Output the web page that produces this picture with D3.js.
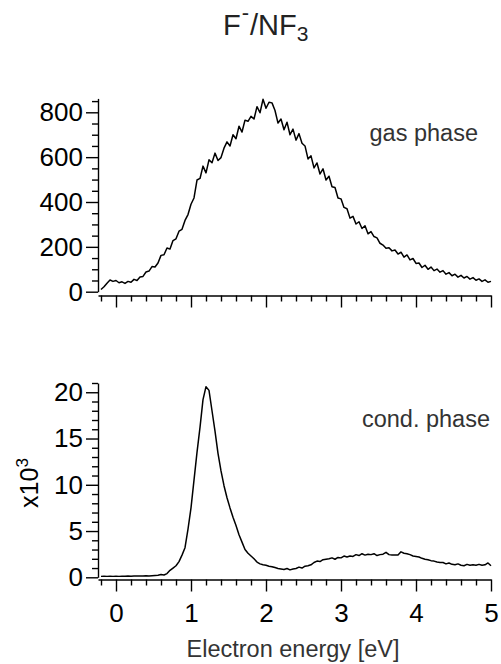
<!DOCTYPE html>
<html><head><meta charset="utf-8">
<script src="https://cdn.jsdelivr.net/npm/d3@7"></script>
<style>
body{margin:0;background:#fff}
svg{display:block}
text{font-family:"Liberation Sans",Arial,Helvetica,sans-serif}
</style>
</head><body><svg id="c" width="501" height="664"></svg>
<script>
// ---- data ----
const energy = [-0.2,-0.16,-0.12,-0.08,-0.04,
0,0.04,0.08,0.12,0.16,0.2,0.24,0.28,0.32,0.36,0.4,0.44,0.48,0.52,0.56,0.6,0.64,0.68,0.72,0.76,0.8,0.84,0.88,0.92,0.96,
1,1.04,1.08,1.12,1.16,1.2,1.24,1.28,1.32,1.36,1.4,1.44,1.48,1.52,1.56,1.6,1.64,1.68,1.72,1.76,1.8,1.84,1.88,1.92,1.96,
2,2.04,2.08,2.12,2.16,2.2,2.24,2.28,2.32,2.36,2.4,2.44,2.48,2.52,2.56,2.6,2.64,2.68,2.72,2.76,2.8,2.84,2.88,2.92,2.96,
3,3.04,3.08,3.12,3.16,3.2,3.24,3.28,3.32,3.36,3.4,3.44,3.48,3.52,3.56,3.6,3.64,3.68,3.72,3.76,3.8,3.84,3.88,3.92,3.96,
4,4.04,4.08,4.12,4.16,4.2,4.24,4.28,4.32,4.36,4.4,4.44,4.48,4.52,4.56,4.6,4.64,4.68,4.72,4.76,4.8,4.84,4.88,4.92,4.96,
5];

const gasPhase = [10,22,38,52,46,
50,40,44,37,46,42,55,50,66,68,88,92,112,110,128,162,165,195,190,228,236,270,278,318,344,
390,418,498,505,560,530,588,575,618,585,598,640,668,650,700,682,738,712,765,760,782,770,825,798,858,
818,845,842,808,752,770,722,756,700,725,676,705,662,650,592,606,552,574,525,548,498,515,468,465,418,
414,376,370,328,336,302,312,282,294,258,268,246,240,216,208,194,196,182,186,168,176,154,164,142,148,
126,128,108,118,100,110,94,101,87,94,78,85,71,78,65,73,61,68,56,63,51,57,46,53,42,
46];

const condPhase = [0.1,0.12,0.1,0.11,0.1,
0.12,0.1,0.12,0.11,0.13,0.12,0.14,0.13,0.15,0.14,0.16,0.15,0.18,0.2,0.22,0.3,0.25,0.4,0.75,1.0,1.25,1.7,2.4,3.2,5.2,
7.5,10.5,13.5,16.2,19.2,20.6,20.2,18.0,15.8,13.4,11.5,9.9,8.6,7.5,6.5,5.6,4.6,3.8,3.0,2.6,2.3,2.0,1.65,1.45,1.35,
1.3,1.2,1.15,1.05,0.95,0.9,0.85,0.95,0.8,0.9,0.95,1.1,1.0,1.2,1.25,1.35,1.6,1.75,1.7,1.9,1.95,2.0,2.1,1.95,2.15,
2.1,2.3,2.2,2.3,2.25,2.45,2.35,2.55,2.4,2.5,2.45,2.55,2.35,2.45,2.5,2.7,2.45,2.4,2.4,2.4,2.75,2.6,2.55,2.45,2.3,
2.25,2.2,2.05,1.95,1.9,1.8,1.75,1.65,1.6,1.6,1.45,1.55,1.4,1.35,1.45,1.3,1.25,1.4,1.3,1.35,1.3,1.4,1.3,1.35,1.55,
1.25];

const xTicks = [0,1,2,3,4,5];
const xMinorTicks = [-0.2,0.2,0.4,0.6,0.8,1.2,1.4,1.6,1.8,2.2,2.4,2.6,2.8,3.2,3.4,3.6,3.8,4.2,4.4,4.6,4.8];
const gasTicks = [0,200,400,600,800];
const gasMinorTicks = [50,100,150,250,300,350,450,500,550,650,700,750,850];
const condTicks = [0,5,10,15,20];
const condMinorTicks = [1,2,3,4,6,7,8,9,11,12,13,14,16,17,18,19,21];

// ---- drawing ----
const svg = d3.select("#c");
const FONT = "Liberation Sans, Arial, Helvetica, sans-serif";
const x = d3.scaleLinear().domain([-0.24, 5]).range([98, 491]);
const yGas = d3.scaleLinear().domain([0, 862]).range([291.7, 98.4]);
const yCond = d3.scaleLinear().domain([0, 21]).range([577.3, 383]);

function styleAxis(g){
  g.selectAll("path,line").attr("stroke","#000").attr("stroke-width",1.4);
  g.attr("font-family",FONT).attr("font-size",26);
  g.selectAll("text").attr("fill","#000");
}

function panel(y, xAxisY, data, ticks, minor, showXLabels){
  const yAxisX = 98;
  svg.append("g").attr("transform",`translate(${yAxisX},0)`)
    .call(d3.axisLeft(y).tickValues(ticks).tickSize(12).tickSizeOuter(0).tickPadding(3).tickFormat(d3.format("d")))
    .call(styleAxis);
  svg.append("g").attr("transform",`translate(${yAxisX},0)`)
    .call(d3.axisLeft(y).tickValues(minor).tickSize(6).tickSizeOuter(0).tickFormat(""))
    .call(styleAxis).call(g=>g.select(".domain").remove());
  const xa = d3.axisBottom(x).tickValues(xTicks).tickSize(12).tickSizeOuter(0).tickPadding(12)
    .tickFormat(showXLabels ? d3.format("d") : "");
  svg.append("g").attr("transform",`translate(0,${xAxisY})`).call(xa).call(styleAxis);
  svg.append("g").attr("transform",`translate(0,${xAxisY})`)
    .call(d3.axisBottom(x).tickValues(xMinorTicks).tickSize(6).tickSizeOuter(0).tickFormat(""))
    .call(styleAxis).call(g=>g.select(".domain").remove());
  const line = d3.line().x((d,i)=>x(energy[i])).y(d=>y(d));
  svg.append("path").datum(data).attr("d",line)
    .attr("fill","none").attr("stroke","#000").attr("stroke-width",1.5)
    .attr("stroke-linejoin","round");
}

panel(yGas, 295.5, gasPhase, gasTicks, gasMinorTicks, false);
panel(yCond, 579.5, condPhase, condTicks, condMinorTicks, true);

// annotations
svg.append("text").attr("x",478).attr("y",141).attr("text-anchor","end")
  .attr("font-size",23.5).attr("fill","#333").text("gas phase");
svg.append("text").attr("x",490).attr("y",427).attr("text-anchor","end")
  .attr("font-size",23.5).attr("fill","#333").text("cond. phase");
svg.append("text").attr("x",293).attr("y",657).attr("text-anchor","middle")
  .attr("font-size",23.5).attr("fill","#333").text("Electron energy [eV]");

const yl = svg.append("text").attr("transform","translate(38,483) rotate(-90)")
  .attr("text-anchor","middle").attr("font-size",25).attr("fill","#000");
yl.append("tspan").text("x10");
yl.append("tspan").attr("font-size",17).attr("dy",-10).text("3");

const t = svg.append("text").attr("x",223).attr("y",35).attr("font-size",29).attr("fill","#222");
t.append("tspan").text("F");
t.append("tspan").attr("font-size",22).attr("dy",-15).attr("dx",1).text("-");
t.append("tspan").attr("dy",15).attr("dx",1).text("/NF");
t.append("tspan").attr("font-size",21).attr("dy",6).text("3");
</script>
</body></html>
